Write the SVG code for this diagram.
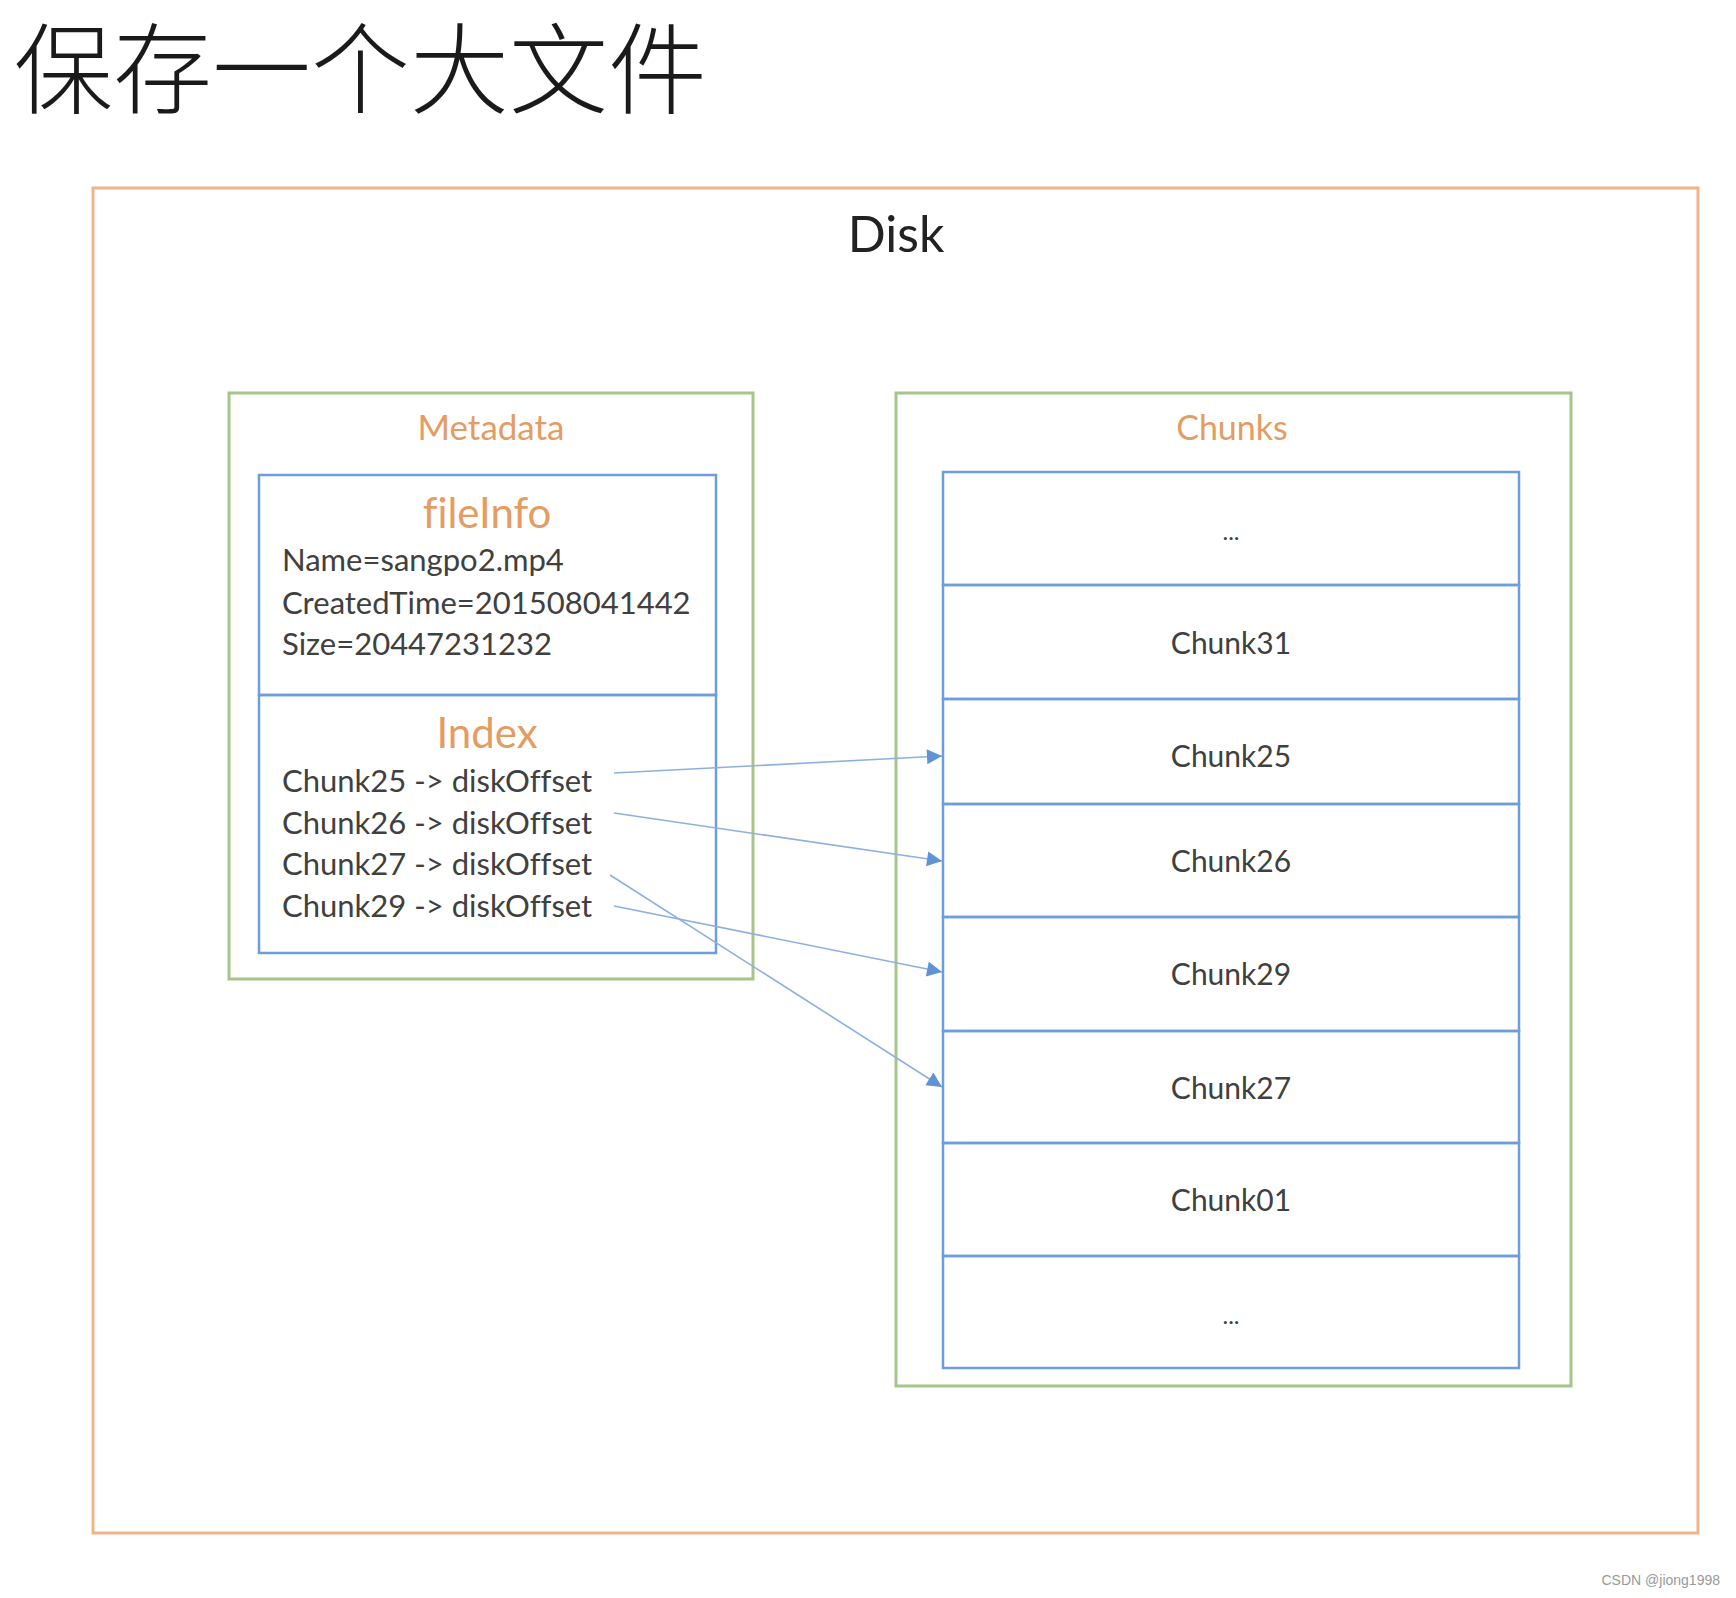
<svg xmlns="http://www.w3.org/2000/svg" width="1736" height="1598" viewBox="0 0 1736 1598">
<style>
text{font-variant-ligatures:none}
.body{font-family:Lato,"Open Sans","Noto Sans",sans-serif;fill:#404040}
.hdr{font-family:Lato,"Open Sans","Noto Sans",sans-serif;fill:#e59c62}
.disk{fill:none;stroke:#f0b489;stroke-width:3}
.grp{fill:none;stroke:#a7c48a;stroke-width:3}
.blu{fill:none;stroke:#6d9edb;stroke-width:2.5}
.conn{stroke:#8eb0e0;stroke-width:1.6;fill:none}
</style>
<defs>
<marker id="arr" viewBox="0 0 10 10" refX="10" refY="5" markerUnits="userSpaceOnUse" markerWidth="17" markerHeight="15" orient="auto">
<path d="M0,0 L10,5 L0,10 z" fill="#5f93d6"/>
</marker>
</defs>
<rect width="1736" height="1598" fill="#ffffff"/>
<text id="title" x="14" y="106" font-family="'Noto Sans CJK SC',sans-serif" font-weight="300" font-size="99" fill="#1a1a1a">保存一个大文件</text>

<g id="disk">
<rect class="disk" x="93" y="188" width="1605" height="1345"/>
<text x="896" y="252" font-family="Lato,'Open Sans',sans-serif" font-size="50" fill="#222" text-anchor="middle">Disk</text>
</g>

<g id="metadata">
<rect class="grp" x="229" y="393" width="524" height="586"/>
<text class="hdr" x="491" y="440" font-size="35" text-anchor="middle">Metadata</text>
</g>

<g id="fileInfo">
<rect class="blu" x="259" y="475" width="457" height="220"/>
<text class="hdr" x="487" y="528" font-size="42" text-anchor="middle">fileInfo</text>
<text class="body" x="282" y="571" font-size="31">Name=sangpo2.mp4</text>
<text class="body" x="282" y="614" font-size="31">CreatedTime=201508041442</text>
<text class="body" x="282" y="655" font-size="31">Size=20447231232</text>
</g>

<g id="index">
<rect class="blu" x="259" y="695" width="457" height="258"/>
<text class="hdr" x="487" y="748" font-size="42" text-anchor="middle">Index</text>
<text class="body" x="282" y="792" font-size="31">Chunk25 -&gt; diskOffset</text>
<text class="body" x="282" y="834" font-size="31">Chunk26 -&gt; diskOffset</text>
<text class="body" x="282" y="875" font-size="31">Chunk27 -&gt; diskOffset</text>
<text class="body" x="282" y="917" font-size="31">Chunk29 -&gt; diskOffset</text>
</g>

<g id="chunks">
<rect class="grp" x="896" y="393" width="675" height="993"/>
<text class="hdr" x="1232" y="440" font-size="34" text-anchor="middle">Chunks</text>
</g>

<g id="chunk-top">
<rect class="blu" x="943" y="472" width="576" height="113"/>
<text class="body" x="1231" y="540" font-size="24" text-anchor="middle">...</text>
</g>
<g id="chunk31">
<rect class="blu" x="943" y="585" width="576" height="114"/>
<text class="body" x="1231" y="654" font-size="30" text-anchor="middle">Chunk31</text>
</g>
<g id="chunk25">
<rect class="blu" x="943" y="699" width="576" height="105"/>
<text class="body" x="1231" y="767" font-size="30" text-anchor="middle">Chunk25</text>
</g>
<g id="chunk26">
<rect class="blu" x="943" y="804" width="576" height="113"/>
<text class="body" x="1231" y="872" font-size="30" text-anchor="middle">Chunk26</text>
</g>
<g id="chunk29">
<rect class="blu" x="943" y="917" width="576" height="114"/>
<text class="body" x="1231" y="985" font-size="30" text-anchor="middle">Chunk29</text>
</g>
<g id="chunk27">
<rect class="blu" x="943" y="1031" width="576" height="112"/>
<text class="body" x="1231" y="1099" font-size="30" text-anchor="middle">Chunk27</text>
</g>
<g id="chunk01">
<rect class="blu" x="943" y="1143" width="576" height="113"/>
<text class="body" x="1231" y="1211" font-size="30" text-anchor="middle">Chunk01</text>
</g>
<g id="chunk-bottom">
<rect class="blu" x="943" y="1256" width="576" height="112"/>
<text class="body" x="1231" y="1324" font-size="24" text-anchor="middle">...</text>
</g>

<g id="connectors">
<line class="conn" x1="614" y1="773" x2="942" y2="756" marker-end="url(#arr)"/>
<line class="conn" x1="614" y1="813" x2="942" y2="861" marker-end="url(#arr)"/>
<line class="conn" x1="610" y1="875" x2="942" y2="1087" marker-end="url(#arr)"/>
<line class="conn" x1="614" y1="906" x2="942" y2="972" marker-end="url(#arr)"/>
</g>

<text id="watermark" x="1720" y="1585" font-family="'Liberation Sans',Arial,sans-serif" font-size="14" fill="#999" text-anchor="end">CSDN @jiong1998</text>
</svg>
